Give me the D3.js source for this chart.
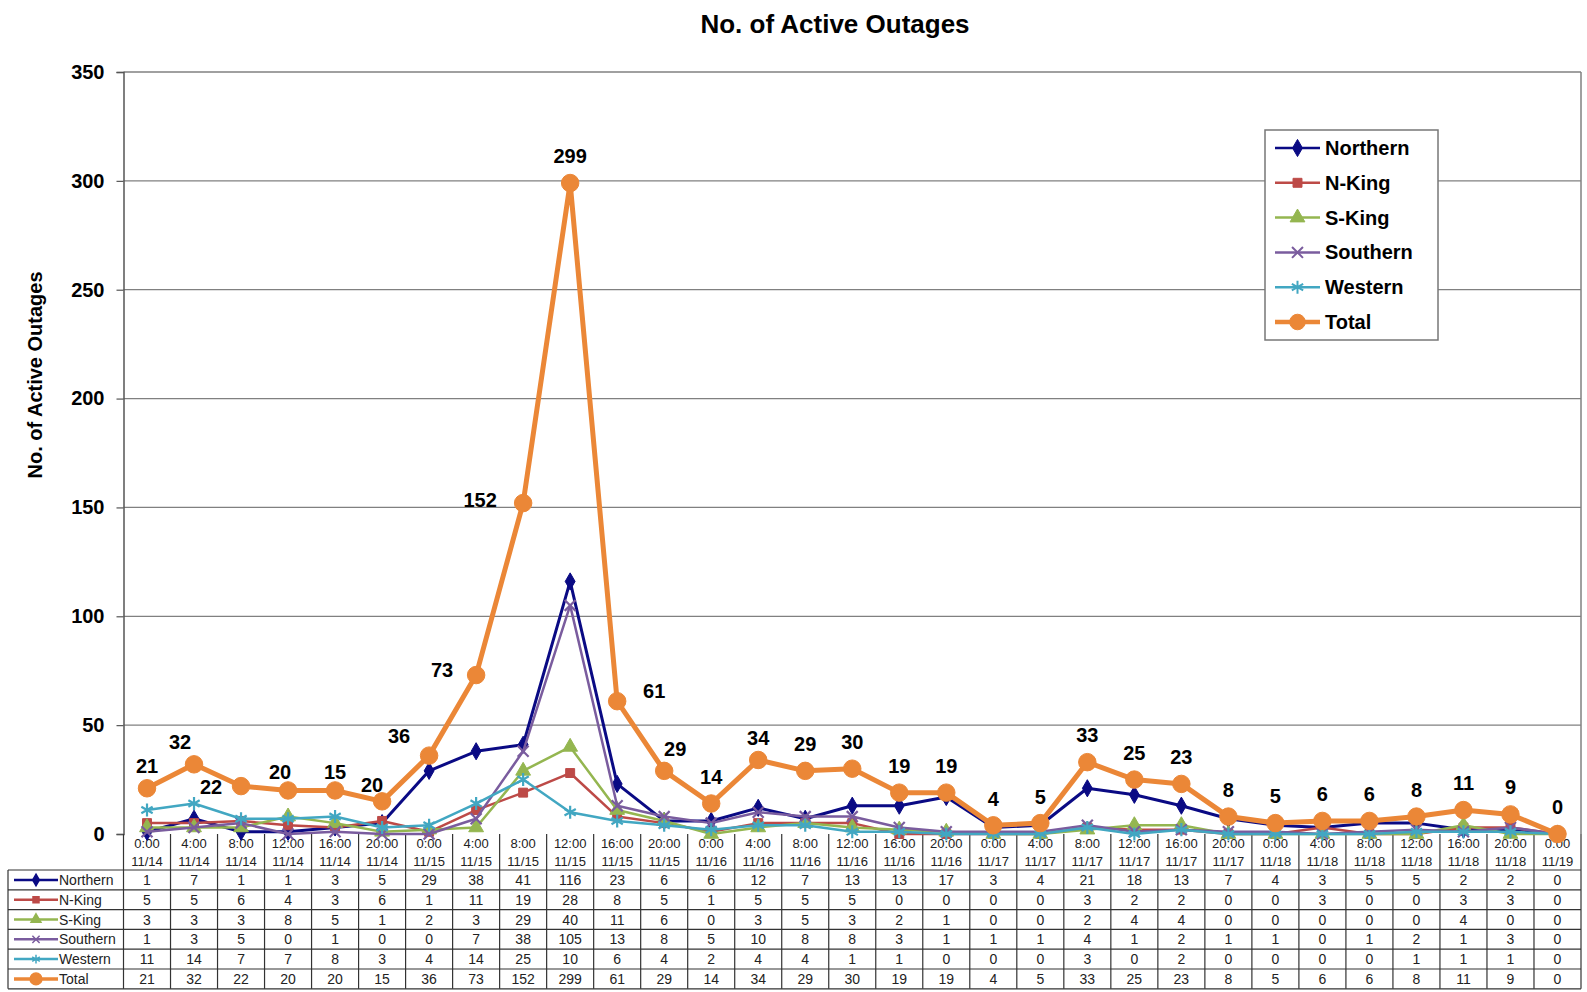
<!DOCTYPE html>
<html>
<head>
<meta charset="utf-8">
<script src="https://cdn.jsdelivr.net/npm/d3@7"></script>
<style>
body { margin: 0; background: #fff; }
svg { display: block; }
text { font-family: Arial, "Liberation Sans", sans-serif; }
</style>
</head>
<body>
<svg id="chart" width="1587" height="992"></svg>
<script>
"use strict";
// categories (two-line axis labels)
const times = ["0:00","4:00","8:00","12:00","16:00","20:00",
    "0:00","4:00","8:00","12:00","16:00","20:00",
    "0:00","4:00","8:00","12:00","16:00","20:00",
    "0:00","4:00","8:00","12:00","16:00","20:00",
    "0:00","4:00","8:00","12:00","16:00","20:00",
    "0:00"];
const dates = ["11/14","11/14","11/14","11/14","11/14","11/14",
    "11/15","11/15","11/15","11/15","11/15","11/15",
    "11/16","11/16","11/16","11/16","11/16","11/16",
    "11/17","11/17","11/17","11/17","11/17","11/17",
    "11/18","11/18","11/18","11/18","11/18","11/18",
    "11/19"];
// series values
const northern = [1,7,1,1,3,5,29,38,41,116,23,6,6,12,7,13,13,17,3,4,21,18,13,7,4,3,5,5,2,2,0];
const nKing    = [5,5,6,4,3,6,1,11,19,28,8,5,1,5,5,5,0,0,0,0,3,2,2,0,0,3,0,0,3,3,0];
const sKing    = [3,3,3,8,5,1,2,3,29,40,11,6,0,3,5,3,2,1,0,0,2,4,4,0,0,0,0,0,4,0,0];
const southern = [1,3,5,0,1,0,0,7,38,105,13,8,5,10,8,8,3,1,1,1,4,1,2,1,1,0,1,2,1,3,0];
const western  = [11,14,7,7,8,3,4,14,25,10,6,4,2,4,4,1,1,0,0,0,3,0,2,0,0,0,0,1,1,1,0];
const total    = [21,32,22,20,20,15,36,73,152,299,61,29,14,34,29,30,19,19,4,5,33,25,23,8,5,6,6,8,11,9,0];
// data label texts as printed above the Total line
const totalLabels = ["21","32","22","20","15","20","36","73","152","299","61","29","14","34","29","30",
    "19","19","4","5","33","25","23","8","5","6","6","8","11","9","0"];
const yTicks = [0,50,100,150,200,250,300,350];

// label nudges (px) for the Total data labels
const labelDx = [0,-14,-30,-8,0,-10,-30,-34,-43,0,37,11,0,0,0,0,0,0,0,0,0,0,0,0,0,0,0,0,0,0,0];
const labelDy = [-22,-22,1,-18,-18,-16,-20,-5,-3,-27,-10,-22,-27,-22,-27,-27,-27,-27,-26,-26,-27,-27,-27,-27,-27,-27,-27,-27,-27,-27,-27];

const series = [
    { name: "Northern", values: northern, color: "#0a0a84", width: 3, symbol: d3.symbolDiamond, size: 85, fill: true },
    { name: "N-King", values: nKing, color: "#bd4a47", width: 2.5, symbol: d3.symbolSquare, size: 80, fill: true },
    { name: "S-King", values: sKing, color: "#94b650", width: 2.5, symbol: d3.symbolTriangle, size: 95, fill: true },
    { name: "Southern", values: southern, color: "#7a5c9e", width: 2.5, symbol: d3.symbolTimes, size: 80, fill: false },
    { name: "Western", values: western, color: "#42a7c2", width: 2.5, symbol: d3.symbolAsterisk, size: 120, fill: false },
    { name: "Total", values: total, color: "#eb8737", width: 5, symbol: d3.symbolCircle, size: 240, fill: true }
];

const plotLeft = 123.5, plotRight = 1581, plotTop = 72, plotBottom = 834;
const tableLeft = 8, headerBottom = 870, rowH = 19.8;

const svg = d3.select("#chart");
const idx = d3.range(times.length);
const x = d3.scaleBand().domain(idx).range([plotLeft, plotRight]).padding(0);
const cx = (i) => x(i) + x.bandwidth() / 2;
const y = d3.scaleLinear().domain([0, 350]).range([plotBottom, plotTop]);

// title
svg.append("text")
    .attr("x", 835).attr("y", 33)
    .attr("text-anchor", "middle")
    .style("font-size", "26px").style("font-weight", "bold")
    .text("No. of Active Outages");

// y axis title
svg.append("text")
    .attr("transform", "translate(42,375) rotate(-90)")
    .attr("text-anchor", "middle")
    .style("font-size", "20px").style("font-weight", "bold")
    .text("No. of Active Outages");

// gridlines
svg.append("g")
    .selectAll("line")
    .data(yTicks.filter(d => d > 0))
    .join("line")
    .attr("x1", plotLeft).attr("x2", plotRight)
    .attr("y1", d => y(d)).attr("y2", d => y(d))
    .attr("stroke", "#808080").attr("stroke-width", 1.3);
// right border of plot area
svg.append("line")
    .attr("x1", plotRight).attr("x2", plotRight)
    .attr("y1", plotTop).attr("y2", plotBottom)
    .attr("stroke", "#808080").attr("stroke-width", 1.5);

// y axis
const yAxis = svg.append("g")
    .attr("transform", `translate(${plotLeft},0)`)
    .call(d3.axisLeft(y).tickValues(yTicks).tickSize(7).tickPadding(12));
yAxis.select(".domain").attr("stroke", "#555").attr("stroke-width", 1.5);
yAxis.selectAll(".tick line").attr("stroke", "#555").attr("stroke-width", 1.2);
yAxis.selectAll(".tick text")
    .style("font-size", "20px").style("font-weight", "bold")
    .style("font-family", "Arial, 'Liberation Sans', sans-serif")
    .attr("fill", "#000");

// data table
const table = svg.append("g");
const colEdges = idx.map(i => x(i)).concat([plotRight]);
table.selectAll("line.vcol")
    .data(colEdges)
    .join("line")
    .attr("class", "vcol")
    .attr("x1", d => d).attr("x2", d => d)
    .attr("y1", plotBottom).attr("y2", headerBottom + rowH * 6)
    .attr("stroke", "#333").attr("stroke-width", 1.2);
table.append("line")
    .attr("x1", tableLeft).attr("x2", tableLeft)
    .attr("y1", headerBottom).attr("y2", headerBottom + rowH * 6)
    .attr("stroke", "#333").attr("stroke-width", 1.2);
table.selectAll("line.hrow")
    .data(d3.range(7))
    .join("line")
    .attr("class", "hrow")
    .attr("x1", tableLeft).attr("x2", plotRight)
    .attr("y1", k => headerBottom + k * rowH).attr("y2", k => headerBottom + k * rowH)
    .attr("stroke", "#333").attr("stroke-width", 1.2);

table.selectAll("text.time")
    .data(idx)
    .join("text")
    .attr("class", "time")
    .attr("x", cx).attr("y", 848)
    .attr("text-anchor", "middle")
    .style("font-size", "13px").attr("fill", "#222")
    .text(i => times[i]);
table.selectAll("text.date")
    .data(idx)
    .join("text")
    .attr("class", "date")
    .attr("x", cx).attr("y", 866)
    .attr("text-anchor", "middle")
    .style("font-size", "13px").attr("fill", "#222")
    .text(i => dates[i]);

series.forEach((s, r) => {
    const rowMid = headerBottom + rowH * r + rowH / 2;
    const row = table.append("g");
    row.selectAll("text")
        .data(s.values)
        .join("text")
        .attr("x", (d, i) => cx(i)).attr("y", rowMid + 5)
        .attr("text-anchor", "middle")
        .style("font-size", "14px").attr("fill", "#222")
        .text(d => d);
    // legend key inside table
    row.append("line")
        .attr("x1", 14).attr("x2", 58)
        .attr("y1", rowMid).attr("y2", rowMid)
        .attr("stroke", s.color).attr("stroke-width", s.name == "Total" ? 3.5 : 2.5);
    row.append("path")
        .attr("d", d3.symbol(s.symbol, s.size * 0.45)())
        .attr("transform", `translate(36,${rowMid})`)
        .attr("fill", s.fill ? s.color : "none")
        .attr("stroke", s.color).attr("stroke-width", 1.5);
    row.append("text")
        .attr("x", 59).attr("y", rowMid + 5)
        .style("font-size", "14px").attr("fill", "#222")
        .text(s.name);
});

// series lines and markers
const line = d3.line().x((d, i) => cx(i)).y(d => y(d));
series.forEach((s) => {
    const g = svg.append("g");
    g.append("path")
        .datum(s.values)
        .attr("d", line)
        .attr("fill", "none")
        .attr("stroke", s.color)
        .attr("stroke-width", s.width)
        .attr("stroke-linejoin", "round");
    g.selectAll("path.marker")
        .data(s.values)
        .join("path")
        .attr("class", "marker")
        .attr("d", d3.symbol(s.symbol, s.size)())
        .attr("transform", (d, i) => `translate(${cx(i)},${y(d)})`)
        .attr("fill", s.fill ? s.color : "none")
        .attr("stroke", s.color)
        .attr("stroke-width", s.fill ? 1 : 2.2);
});

// total data labels
svg.append("g")
    .selectAll("text")
    .data(total)
    .join("text")
    .attr("x", (d, i) => cx(i) + labelDx[i])
    .attr("y", (d, i) => y(d) + labelDy[i])
    .attr("text-anchor", "middle")
    .attr("dominant-baseline", "central")
    .style("font-size", "20px").style("font-weight", "bold")
    .text((d, i) => totalLabels[i]);

// legend
const legend = svg.append("g");
legend.append("rect")
    .attr("x", 1265).attr("y", 130).attr("width", 173).attr("height", 210)
    .attr("fill", "#fff").attr("stroke", "#777").attr("stroke-width", 1.5);
series.forEach((s, k) => {
    const ly = 148 + k * 34.8;
    legend.append("line")
        .attr("x1", 1275).attr("x2", 1320)
        .attr("y1", ly).attr("y2", ly)
        .attr("stroke", s.color).attr("stroke-width", s.name == "Total" ? 4.5 : 2.5);
    legend.append("path")
        .attr("d", d3.symbol(s.symbol, s.name == "Total" ? 190 : s.size)())
        .attr("transform", `translate(1297.5,${ly})`)
        .attr("fill", s.fill ? s.color : "none")
        .attr("stroke", s.color).attr("stroke-width", s.fill ? 1 : 2);
    legend.append("text")
        .attr("x", 1325).attr("y", ly)
        .attr("dominant-baseline", "central")
        .style("font-size", "20px").style("font-weight", "bold")
        .text(s.name);
});
</script>
</body>
</html>
